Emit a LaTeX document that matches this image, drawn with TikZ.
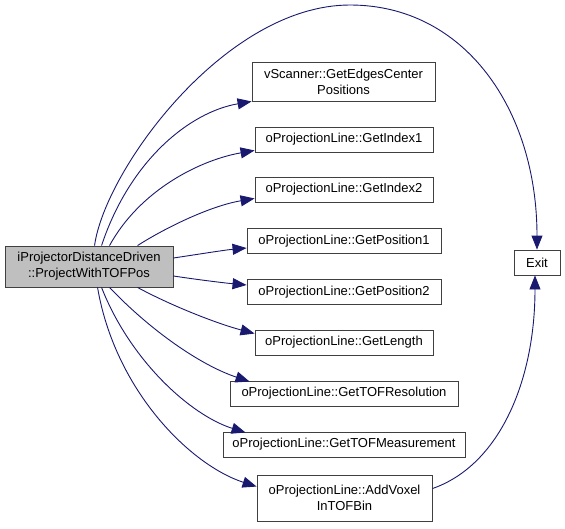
\documentclass[tikz,border=0pt]{standalone}
\usepackage{fontspec}
\setmainfont{Liberation Sans}
\usetikzlibrary{arrows.meta}
\definecolor{edgeblue}{HTML}{191970}
\definecolor{nodegray}{HTML}{BFBFBF}
\definecolor{boxline}{HTML}{404040}
\begin{document}
\begin{tikzpicture}[x=1pt,y=-1pt,
  box/.style={draw=boxline, line width=0.9pt, inner sep=0pt, align=center,
    font=\fontsize{13}{16}\selectfont, fill=white, minimum height=25pt},
  edge/.style={draw=edgeblue, line width=0.9pt, -{Triangle[length=14pt,width=11pt,fill=edgeblue]}}]
\useasboundingbox (0,0) rectangle (565,528);
\node[box, fill=nodegray, minimum width=168pt, minimum height=41pt] (main) at (89,266.5) {iProjectorDistanceDriven\\::ProjectWithTOFPos};
\node[box, minimum width=46pt] (exit) at (537,262.5) {Exit};
\node[box, minimum width=183pt, minimum height=39pt] (vs) at (343.5,81.5) {vScanner::GetEdgesCenter\\Positions};
\node[box, minimum width=178pt] (gi1) at (344,139.5) {oProjectionLine::GetIndex1};
\node[box, minimum width=178pt] (gi2) at (344,189.5) {oProjectionLine::GetIndex2};
\node[box, minimum width=194pt] (gp1) at (344,241) {oProjectionLine::GetPosition1};
\node[box, minimum width=194pt] (gp2) at (344,292) {oProjectionLine::GetPosition2};
\node[box, minimum width=178pt] (gl) at (344,342.5) {oProjectionLine::GetLength};
\node[box, minimum width=228pt] (gtr) at (344,393.5) {oProjectionLine::GetTOFResolution};
\node[box, minimum width=242pt] (gtm) at (344,444.5) {oProjectionLine::GetTOFMeasurement};
\node[box, minimum width=175pt, minimum height=46pt] (av) at (344.5,498) {oProjectionLine::AddVoxel\\InTOFBin};

\draw[edge] ([xshift=90pt]main.north west) .. controls (105,170) and (225,5) .. (350,5) .. controls (465,5) and (537,110) .. (exit.north);
\draw[edge] ([xshift=97pt]main.north west) .. controls (130,160) and (190,112) .. (vs.south west);
\draw[edge] ([xshift=105pt]main.north west) .. controls (140,190) and (200,160) .. ([yshift=2pt]gi1.south west);
\draw[edge] ([xshift=133pt]main.north west) .. controls (165,228) and (210,206) .. ([yshift=4pt]gi2.south west);
\draw[edge] ([yshift=8.5pt]main.east) .. controls (200,254) and (225,250) .. ([yshift=-7pt]gp1.west);
\draw[edge] ([yshift=-9.5pt]main.east) .. controls (200,280) and (225,283) .. ([yshift=7pt]gp2.west);
\draw[edge] ([xshift=133pt]main.south west) .. controls (170,305) and (215,323) .. ([yshift=-4pt]gl.north west);
\draw[edge] ([xshift=105pt]main.south west) .. controls (150,330) and (200,365) .. ([xshift=20pt,yshift=-1pt]gtr.north west);
\draw[edge] ([xshift=97pt]main.south west) .. controls (130,360) and (190,415) .. ([xshift=23pt,yshift=-1pt]gtm.north west);
\draw[edge] ([xshift=93pt]main.south west) .. controls (115,390) and (190,465) .. ([yshift=-12pt]av.north west);
\draw[edge] ([yshift=-14pt]av.north east) .. controls (500,465) and (535,380) .. ([xshift=-2pt]exit.south);
\end{tikzpicture}
\end{document}
